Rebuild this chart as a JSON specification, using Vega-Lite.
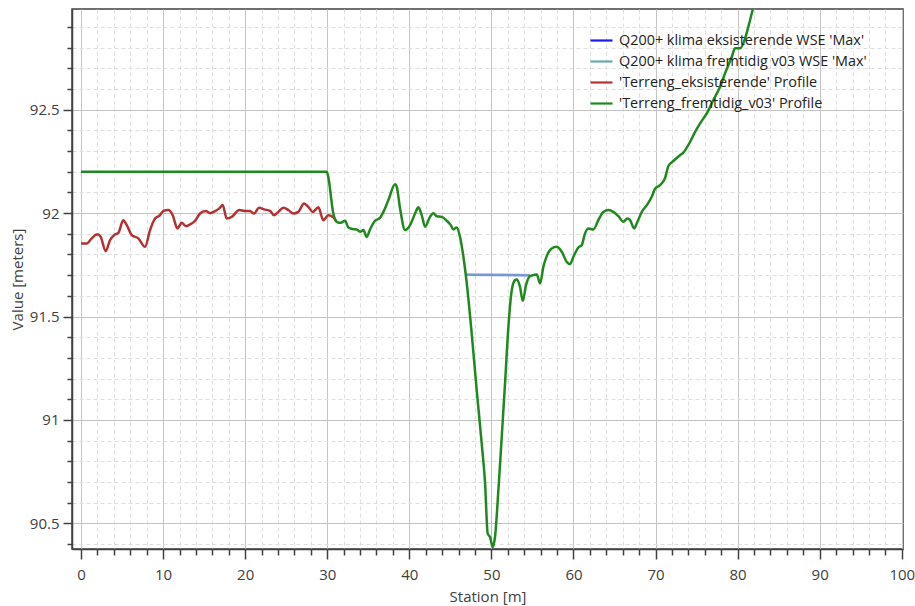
{
  "$schema": "https://vega.github.io/schema/vega-lite/v6.json",
  "width": 831,
  "height": 540,
  "autosize": {"type": "none"},
  "padding": {"left": 72, "top": 9, "right": 12, "bottom": 57},
  "background": "white",
  "config": {
    "font": "Open Sans",
    "view": {"stroke": "#404040", "strokeWidth": 1.5},
    "axis": {
      "labelFont": "Open Sans",
      "titleFont": "Open Sans",
      "labelColor": "#404040",
      "titleColor": "#404040",
      "labelFontSize": 15,
      "titleFontSize": 15,
      "titleFontWeight": "normal",
      "domainColor": "#404040",
      "domainWidth": 1.5,
      "tickColor": "#404040",
      "tickWidth": 1.5
    },
    "legend": {"labelFont": "Open Sans", "labelFontSize": 14.4, "labelColor": "#222222"}
  },
  "datasets": {
    "wse": [
      {"series": "Q200+ klima eksisterende WSE 'Max'", "station": 46.9, "value": 91.702},
      {"series": "Q200+ klima eksisterende WSE 'Max'", "station": 54.7, "value": 91.700},
      {"series": "Q200+ klima fremtidig v03 WSE 'Max'", "station": 46.9, "value": 91.702},
      {"series": "Q200+ klima fremtidig v03 WSE 'Max'", "station": 54.7, "value": 91.700}
    ],
    "terrain": [
      {"series": "'Terreng_eksisterende' Profile", "station": 0.0, "value": 91.853},
      {"series": "'Terreng_eksisterende' Profile", "station": 0.69, "value": 91.853},
      {"series": "'Terreng_eksisterende' Profile", "station": 1.3, "value": 91.878},
      {"series": "'Terreng_eksisterende' Profile", "station": 1.99, "value": 91.898},
      {"series": "'Terreng_eksisterende' Profile", "station": 2.4, "value": 91.885},
      {"series": "'Terreng_eksisterende' Profile", "station": 3.0, "value": 91.816},
      {"series": "'Terreng_eksisterende' Profile", "station": 3.53, "value": 91.869},
      {"series": "'Terreng_eksisterende' Profile", "station": 4.02, "value": 91.894},
      {"series": "'Terreng_eksisterende' Profile", "station": 4.55, "value": 91.905},
      {"series": "'Terreng_eksisterende' Profile", "station": 5.15, "value": 91.966},
      {"series": "'Terreng_eksisterende' Profile", "station": 5.57, "value": 91.942},
      {"series": "'Terreng_eksisterende' Profile", "station": 6.18, "value": 91.894},
      {"series": "'Terreng_eksisterende' Profile", "station": 6.98, "value": 91.878},
      {"series": "'Terreng_eksisterende' Profile", "station": 7.8, "value": 91.837},
      {"series": "'Terreng_eksisterende' Profile", "station": 8.41, "value": 91.918},
      {"series": "'Terreng_eksisterende' Profile", "station": 9.02, "value": 91.974},
      {"series": "'Terreng_eksisterende' Profile", "station": 9.63, "value": 91.99},
      {"series": "'Terreng_eksisterende' Profile", "station": 10.03, "value": 92.011},
      {"series": "'Terreng_eksisterende' Profile", "station": 10.64, "value": 92.015},
      {"series": "'Terreng_eksisterende' Profile", "station": 11.17, "value": 91.99},
      {"series": "'Terreng_eksisterende' Profile", "station": 11.74, "value": 91.926},
      {"series": "'Terreng_eksisterende' Profile", "station": 12.27, "value": 91.953},
      {"series": "'Terreng_eksisterende' Profile", "station": 12.79, "value": 91.937},
      {"series": "'Terreng_eksisterende' Profile", "station": 13.49, "value": 91.95},
      {"series": "'Terreng_eksisterende' Profile", "station": 13.89, "value": 91.963},
      {"series": "'Terreng_eksisterende' Profile", "station": 14.5, "value": 91.998},
      {"series": "'Terreng_eksisterende' Profile", "station": 15.19, "value": 92.01},
      {"series": "'Terreng_eksisterende' Profile", "station": 15.72, "value": 92.0},
      {"series": "'Terreng_eksisterende' Profile", "station": 16.33, "value": 92.01},
      {"series": "'Terreng_eksisterende' Profile", "station": 16.85, "value": 92.023},
      {"series": "'Terreng_eksisterende' Profile", "station": 17.26, "value": 92.039},
      {"series": "'Terreng_eksisterende' Profile", "station": 17.75, "value": 91.974},
      {"series": "'Terreng_eksisterende' Profile", "station": 18.36, "value": 91.982},
      {"series": "'Terreng_eksisterende' Profile", "station": 19.29, "value": 92.015},
      {"series": "'Terreng_eksisterende' Profile", "station": 19.98, "value": 92.01},
      {"series": "'Terreng_eksisterende' Profile", "station": 20.59, "value": 92.01},
      {"series": "'Terreng_eksisterende' Profile", "station": 21.08, "value": 91.998},
      {"series": "'Terreng_eksisterende' Profile", "station": 21.69, "value": 92.026},
      {"series": "'Terreng_eksisterende' Profile", "station": 22.3, "value": 92.018},
      {"series": "'Terreng_eksisterende' Profile", "station": 23.03, "value": 92.011},
      {"series": "'Terreng_eksisterende' Profile", "station": 23.52, "value": 91.99},
      {"series": "'Terreng_eksisterende' Profile", "station": 24.04, "value": 92.006},
      {"series": "'Terreng_eksisterende' Profile", "station": 24.65, "value": 92.026},
      {"series": "'Terreng_eksisterende' Profile", "station": 25.26, "value": 92.015},
      {"series": "'Terreng_eksisterende' Profile", "station": 25.87, "value": 91.998},
      {"series": "'Terreng_eksisterende' Profile", "station": 26.48, "value": 92.006},
      {"series": "'Terreng_eksisterende' Profile", "station": 27.17, "value": 92.047},
      {"series": "'Terreng_eksisterende' Profile", "station": 27.7, "value": 92.03},
      {"series": "'Terreng_eksisterende' Profile", "station": 28.23, "value": 92.006},
      {"series": "'Terreng_eksisterende' Profile", "station": 28.92, "value": 92.028},
      {"series": "'Terreng_eksisterende' Profile", "station": 29.52, "value": 91.966},
      {"series": "'Terreng_eksisterende' Profile", "station": 30.13, "value": 91.99},
      {"series": "'Terreng_eksisterende' Profile", "station": 30.67, "value": 91.982},
      {"series": "'Terreng_eksisterende' Profile", "station": 31.15, "value": 91.958},

      {"series": "'Terreng_fremtidig_v03' Profile", "station": 0.0, "value": 92.2},
      {"series": "'Terreng_fremtidig_v03' Profile", "station": 29.93, "value": 92.2},
      {"series": "'Terreng_fremtidig_v03' Profile", "station": 30.1, "value": 92.18},
      {"series": "'Terreng_fremtidig_v03' Profile", "station": 30.74, "value": 91.998},
      {"series": "'Terreng_fremtidig_v03' Profile", "station": 31.15, "value": 91.958},
      {"series": "'Terreng_fremtidig_v03' Profile", "station": 31.64, "value": 91.953},
      {"series": "'Terreng_fremtidig_v03' Profile", "station": 32.17, "value": 91.963},
      {"series": "'Terreng_fremtidig_v03' Profile", "station": 32.57, "value": 91.931},
      {"series": "'Terreng_fremtidig_v03' Profile", "station": 33.1, "value": 91.923},
      {"series": "'Terreng_fremtidig_v03' Profile", "station": 33.59, "value": 91.921},
      {"series": "'Terreng_fremtidig_v03' Profile", "station": 34.0, "value": 91.91},
      {"series": "'Terreng_fremtidig_v03' Profile", "station": 34.4, "value": 91.918},
      {"series": "'Terreng_fremtidig_v03' Profile", "station": 34.81, "value": 91.885},
      {"series": "'Terreng_fremtidig_v03' Profile", "station": 35.21, "value": 91.921},
      {"series": "'Terreng_fremtidig_v03' Profile", "station": 35.82, "value": 91.963},
      {"series": "'Terreng_fremtidig_v03' Profile", "station": 36.43, "value": 91.977},
      {"series": "'Terreng_fremtidig_v03' Profile", "station": 36.84, "value": 92.006},
      {"series": "'Terreng_fremtidig_v03' Profile", "station": 37.45, "value": 92.063},
      {"series": "'Terreng_fremtidig_v03' Profile", "station": 38.26, "value": 92.14},
      {"series": "'Terreng_fremtidig_v03' Profile", "station": 38.47, "value": 92.127},
      {"series": "'Terreng_fremtidig_v03' Profile", "station": 38.87, "value": 92.023},
      {"series": "'Terreng_fremtidig_v03' Profile", "station": 39.48, "value": 91.918},
      {"series": "'Terreng_fremtidig_v03' Profile", "station": 40.09, "value": 91.942},
      {"series": "'Terreng_fremtidig_v03' Profile", "station": 40.7, "value": 91.998},
      {"series": "'Terreng_fremtidig_v03' Profile", "station": 41.1, "value": 92.028},
      {"series": "'Terreng_fremtidig_v03' Profile", "station": 41.51, "value": 91.99},
      {"series": "'Terreng_fremtidig_v03' Profile", "station": 41.92, "value": 91.934},
      {"series": "'Terreng_fremtidig_v03' Profile", "station": 42.52, "value": 91.982},
      {"series": "'Terreng_fremtidig_v03' Profile", "station": 42.93, "value": 92.0},
      {"series": "'Terreng_fremtidig_v03' Profile", "station": 43.34, "value": 91.985},
      {"series": "'Terreng_fremtidig_v03' Profile", "station": 43.95, "value": 91.982},
      {"series": "'Terreng_fremtidig_v03' Profile", "station": 44.56, "value": 91.963},
      {"series": "'Terreng_fremtidig_v03' Profile", "station": 45.05, "value": 91.942},
      {"series": "'Terreng_fremtidig_v03' Profile", "station": 45.37, "value": 91.921},
      {"series": "'Terreng_fremtidig_v03' Profile", "station": 45.78, "value": 91.931},
      {"series": "'Terreng_fremtidig_v03' Profile", "station": 46.18, "value": 91.885},
      {"series": "'Terreng_fremtidig_v03' Profile", "station": 46.59, "value": 91.789},
      {"series": "'Terreng_fremtidig_v03' Profile", "station": 47.0, "value": 91.66},
      {"series": "'Terreng_fremtidig_v03' Profile", "station": 47.6, "value": 91.418},
      {"series": "'Terreng_fremtidig_v03' Profile", "station": 48.21, "value": 91.144},
      {"series": "'Terreng_fremtidig_v03' Profile", "station": 48.82, "value": 90.886},
      {"series": "'Terreng_fremtidig_v03' Profile", "station": 49.23, "value": 90.692},
      {"series": "'Terreng_fremtidig_v03' Profile", "station": 49.55, "value": 90.45},
      {"series": "'Terreng_fremtidig_v03' Profile", "station": 49.83, "value": 90.434},
      {"series": "'Terreng_fremtidig_v03' Profile", "station": 50.16, "value": 90.386},
      {"series": "'Terreng_fremtidig_v03' Profile", "station": 50.44, "value": 90.434},
      {"series": "'Terreng_fremtidig_v03' Profile", "station": 50.85, "value": 90.66},
      {"series": "'Terreng_fremtidig_v03' Profile", "station": 51.26, "value": 90.918},
      {"series": "'Terreng_fremtidig_v03' Profile", "station": 51.66, "value": 91.176},
      {"series": "'Terreng_fremtidig_v03' Profile", "station": 52.07, "value": 91.45},
      {"series": "'Terreng_fremtidig_v03' Profile", "station": 52.48, "value": 91.627},
      {"series": "'Terreng_fremtidig_v03' Profile", "station": 52.88, "value": 91.676},
      {"series": "'Terreng_fremtidig_v03' Profile", "station": 53.09, "value": 91.679},
      {"series": "'Terreng_fremtidig_v03' Profile", "station": 53.49, "value": 91.643},
      {"series": "'Terreng_fremtidig_v03' Profile", "station": 53.82, "value": 91.576},
      {"series": "'Terreng_fremtidig_v03' Profile", "station": 54.22, "value": 91.652},
      {"series": "'Terreng_fremtidig_v03' Profile", "station": 54.71, "value": 91.695},
      {"series": "'Terreng_fremtidig_v03' Profile", "station": 55.53, "value": 91.703},
      {"series": "'Terreng_fremtidig_v03' Profile", "station": 55.93, "value": 91.66},
      {"series": "'Terreng_fremtidig_v03' Profile", "station": 56.33, "value": 91.74},
      {"series": "'Terreng_fremtidig_v03' Profile", "station": 56.74, "value": 91.792},
      {"series": "'Terreng_fremtidig_v03' Profile", "station": 57.35, "value": 91.829},
      {"series": "'Terreng_fremtidig_v03' Profile", "station": 57.96, "value": 91.837},
      {"series": "'Terreng_fremtidig_v03' Profile", "station": 58.57, "value": 91.813},
      {"series": "'Terreng_fremtidig_v03' Profile", "station": 59.18, "value": 91.764},
      {"series": "'Terreng_fremtidig_v03' Profile", "station": 59.58, "value": 91.753},
      {"series": "'Terreng_fremtidig_v03' Profile", "station": 59.99, "value": 91.789},
      {"series": "'Terreng_fremtidig_v03' Profile", "station": 60.6, "value": 91.834},
      {"series": "'Terreng_fremtidig_v03' Profile", "station": 61.0, "value": 91.845},
      {"series": "'Terreng_fremtidig_v03' Profile", "station": 61.41, "value": 91.902},
      {"series": "'Terreng_fremtidig_v03' Profile", "station": 61.81, "value": 91.926},
      {"series": "'Terreng_fremtidig_v03' Profile", "station": 62.42, "value": 91.921},
      {"series": "'Terreng_fremtidig_v03' Profile", "station": 63.03, "value": 91.966},
      {"series": "'Terreng_fremtidig_v03' Profile", "station": 63.64, "value": 92.006},
      {"series": "'Terreng_fremtidig_v03' Profile", "station": 64.25, "value": 92.015},
      {"series": "'Terreng_fremtidig_v03' Profile", "station": 64.86, "value": 92.006},
      {"series": "'Terreng_fremtidig_v03' Profile", "station": 65.47, "value": 91.985},
      {"series": "'Terreng_fremtidig_v03' Profile", "station": 66.08, "value": 91.958},
      {"series": "'Terreng_fremtidig_v03' Profile", "station": 66.57, "value": 91.974},
      {"series": "'Terreng_fremtidig_v03' Profile", "station": 66.9, "value": 91.966},
      {"series": "'Terreng_fremtidig_v03' Profile", "station": 67.39, "value": 91.926},
      {"series": "'Terreng_fremtidig_v03' Profile", "station": 67.79, "value": 91.958},
      {"series": "'Terreng_fremtidig_v03' Profile", "station": 68.33, "value": 92.006},
      {"series": "'Terreng_fremtidig_v03' Profile", "station": 68.94, "value": 92.039},
      {"series": "'Terreng_fremtidig_v03' Profile", "station": 69.54, "value": 92.079},
      {"series": "'Terreng_fremtidig_v03' Profile", "station": 69.94, "value": 92.118},
      {"series": "'Terreng_fremtidig_v03' Profile", "station": 70.55, "value": 92.135},
      {"series": "'Terreng_fremtidig_v03' Profile", "station": 71.16, "value": 92.17},
      {"series": "'Terreng_fremtidig_v03' Profile", "station": 71.57, "value": 92.228},
      {"series": "'Terreng_fremtidig_v03' Profile", "station": 72.17, "value": 92.252},
      {"series": "'Terreng_fremtidig_v03' Profile", "station": 72.98, "value": 92.28},
      {"series": "'Terreng_fremtidig_v03' Profile", "station": 73.39, "value": 92.293},
      {"series": "'Terreng_fremtidig_v03' Profile", "station": 74.21, "value": 92.345},
      {"series": "'Terreng_fremtidig_v03' Profile", "station": 74.82, "value": 92.393},
      {"series": "'Terreng_fremtidig_v03' Profile", "station": 75.43, "value": 92.434},
      {"series": "'Terreng_fremtidig_v03' Profile", "station": 76.24, "value": 92.482},
      {"series": "'Terreng_fremtidig_v03' Profile", "station": 77.05, "value": 92.547},
      {"series": "'Terreng_fremtidig_v03' Profile", "station": 77.86, "value": 92.611},
      {"series": "'Terreng_fremtidig_v03' Profile", "station": 78.47, "value": 92.676},
      {"series": "'Terreng_fremtidig_v03' Profile", "station": 79.29, "value": 92.756},
      {"series": "'Terreng_fremtidig_v03' Profile", "station": 79.69, "value": 92.797},
      {"series": "'Terreng_fremtidig_v03' Profile", "station": 80.3, "value": 92.797},
      {"series": "'Terreng_fremtidig_v03' Profile", "station": 80.91, "value": 92.845},
      {"series": "'Terreng_fremtidig_v03' Profile", "station": 81.52, "value": 92.934},
      {"series": "'Terreng_fremtidig_v03' Profile", "station": 82.13, "value": 93.03},
      {"series": "'Terreng_fremtidig_v03' Profile", "station": 83.0, "value": 93.15}
    ]
  },
  "encoding": {
    "x": {
      "field": "station",
      "type": "quantitative",
      "title": "Station [m]",
      "scale": {"domain": [-1.1, 100.15], "nice": false, "zero": false},
      "axis": {
        "values": [0, 2, 4, 6, 8, 10, 12, 14, 16, 18, 20, 22, 24, 26, 28, 30, 32, 34, 36, 38, 40, 42, 44, 46, 48, 50, 52, 54, 56, 58, 60, 62, 64, 66, 68, 70, 72, 74, 76, 78, 80, 82, 84, 86, 88, 90, 92, 94, 96, 98, 100],
        "labelExpr": "datum.value % 10 === 0 ? datum.label : ''",
        "labelPadding": 8,
        "labelFlush": false,
        "labelOverlap": false,
        "tickSize": {"condition": {"test": "datum.value % 10 === 0", "value": 10}, "value": 6},
        "grid": true,
        "gridColor": {"condition": {"test": "datum.value % 10 === 0", "value": "#c4c4c4"}, "value": "#dedede"},
        "gridDash": {"condition": {"test": "datum.value % 10 === 0", "value": []}, "value": [4, 3]},
        "gridWidth": 1,
        "titlePadding": 7
      }
    },
    "y": {
      "field": "value",
      "type": "quantitative",
      "title": "Value [meters]",
      "scale": {"domain": [90.376, 92.987], "nice": false, "zero": false},
      "axis": {
        "values": [90.4, 90.5, 90.6, 90.7, 90.8, 90.9, 91.0, 91.1, 91.2, 91.3, 91.4, 91.5, 91.6, 91.7, 91.8, 91.9, 92.0, 92.1, 92.2, 92.3, 92.4, 92.5, 92.6, 92.7, 92.8, 92.9],
        "labelExpr": "round(datum.value * 10) % 5 === 0 ? format(datum.value, '.1~f') : ''",
        "labelPadding": 4,
        "labelOverlap": false,
        "labelFlush": false,
        "tickSize": {"condition": {"test": "round(datum.value * 10) % 5 === 0", "value": 9}, "value": 5},
        "grid": true,
        "gridColor": {"condition": {"test": "round(datum.value * 10) % 5 === 0", "value": "#c4c4c4"}, "value": "#dedede"},
        "gridDash": {"condition": {"test": "round(datum.value * 10) % 5 === 0", "value": []}, "value": [4, 3]},
        "gridWidth": 1,
        "titlePadding": 4
      }
    },
    "color": {
      "field": "series",
      "type": "nominal",
      "scale": {
        "domain": ["Q200+ klima eksisterende WSE 'Max'", "Q200+ klima fremtidig v03 WSE 'Max'", "'Terreng_eksisterende' Profile", "'Terreng_fremtidig_v03' Profile"],
        "range": ["#1a1aff", "#6aa8ac", "#b23232", "#1e8a1e"]
      },
      "legend": {
        "title": null,
        "orient": "none",
        "legendX": 517,
        "legendY": 19,
        "padding": 0,
        "symbolType": "stroke",
        "symbolSize": 484,
        "symbolStrokeWidth": 2.2,
        "symbolOpacity": 1,
        "labelOffset": 5,
        "rowPadding": 2,
        "labelLimit": 400
      }
    }
  },
  "layer": [
    {
      "data": {"name": "wse"},
      "transform": [{"filter": "datum.series === \"Q200+ klima eksisterende WSE 'Max'\""}],
      "mark": {"type": "line", "strokeWidth": 2.5, "opacity": 0.5, "clip": true}
    },
    {
      "data": {"name": "wse"},
      "transform": [{"filter": "datum.series === \"Q200+ klima fremtidig v03 WSE 'Max'\""}],
      "mark": {"type": "line", "strokeWidth": 2.5, "opacity": 0.5, "clip": true}
    },
    {
      "data": {"name": "terrain"},
      "transform": [{"filter": "datum.series === \"'Terreng_eksisterende' Profile\""}],
      "mark": {"type": "line", "strokeWidth": 2.5, "interpolate": "monotone", "clip": true}
    },
    {
      "data": {"name": "terrain"},
      "transform": [{"filter": "datum.series === \"'Terreng_fremtidig_v03' Profile\""}],
      "mark": {"type": "line", "strokeWidth": 2.5, "interpolate": "monotone", "clip": true}
    }
  ]
}
